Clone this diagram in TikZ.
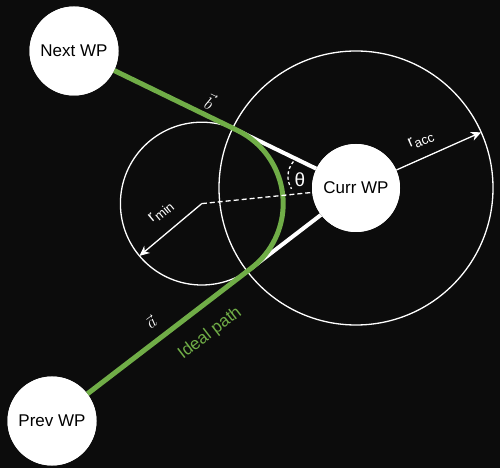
\documentclass[tikz,border=0pt]{standalone}
\usepackage{fontspec}
\setmainfont{Liberation Sans}
\usetikzlibrary{arrows.meta,calc}
\definecolor{bg}{RGB}{12,12,12}
\definecolor{pathgreen}{RGB}{112,173,71}
\begin{document}
\begin{tikzpicture}[x=1pt,y=1pt,
  wp/.style={circle, fill=white, minimum size=89pt, inner sep=0pt,
    font=\fontsize{17}{20}\selectfont, text=black},
  ring/.style={draw=white, line width=1.3pt},
  tangentline/.style={draw=white, line width=4pt},
  ideal/.style={draw=pathgreen, line width=5pt},
  radiusarrow/.style={draw=white, line width=1.3pt,
    -{Stealth[length=10pt,width=9pt,inset=3pt]}},
  dashline/.style={draw=white, line width=1.3pt, dash pattern=on 5pt off 3pt},
  rlabel/.style={text=white, font=\fontsize{16}{18}\selectfont, inner sep=1pt},
  veclabel/.style={text=white, font=\fontsize{18}{20}\selectfont, inner sep=1pt}
]
\useasboundingbox[fill=bg] (0,0) rectangle (500,468);

% geometry
\coordinate (O) at (201.8,264.4);
\coordinate (T1) at (237.35,337.64);
\coordinate (T2) at (251.32,199.75);
\coordinate (C) at (356,280);

% circles
\draw[ring] (C) circle[radius=137];
\draw[ring] (O) circle[radius=81.4];

% waypoint nodes (placed for naming)
\path (74,417) node[wp] (next) {};
\path (356,280) node[wp, minimum size=88pt] (curr) {};
\path (52,47) node[wp] (prev) {};

% tangent lines to current WP
\draw[tangentline] (T1) -- (curr);
\draw[tangentline] (T2) -- (curr);

% ideal path
\draw[ideal] (next) -- (T1) arc[start angle=64.09, end angle=-52.53, radius=81.4] -- (prev);

% dashed bisector
\draw[dashline] (O) -- (curr);

% radius arrows
\coordinate (rminEnd) at ($(O)+(220:81.4)$);
\draw[radiusarrow] (O) -- (rminEnd);
\coordinate (raccEnd) at ($(C)+(24:137)$);
\draw[radiusarrow] (curr) -- (raccEnd);

% theta
\draw[dashline, dash pattern=on 3pt off 2.5pt] ($(311.25,291.5)+(140:23.3)$) arc[start angle=140, end angle=212, radius=23.3];
\node[fill=bg, text=white, font=\fontsize{19}{22}\selectfont, inner sep=2pt] (theta) at (300,288) {θ};

% waypoint circles drawn on top
\node[wp] (nextc) at (next) {Next WP};
\node[wp, minimum size=88pt] (currc) at (curr) {Curr WP};
\node[wp] (prevc) at (prev) {Prev WP};

% labels
\node[rlabel, rotate=24] (racc) at (421,328) {r\raisebox{-4pt}{\fontsize{13}{15}\selectfont acc}};
\node[rlabel, rotate=40] (rmin) at (161,256) {r\raisebox{-4pt}{\fontsize{13}{15}\selectfont min}};
\node[veclabel, rotate=-26] (bvec) at (210,367) {$\vec{b}$};
\node[veclabel, rotate=37.5] (avec) at (151,146) {$\vec{a}$};
\node[text=pathgreen, font=\fontsize{17}{20}\selectfont, rotate=37.5] (ideallabel) at (210,134.5) {Ideal path};
\end{tikzpicture}
\end{document}
